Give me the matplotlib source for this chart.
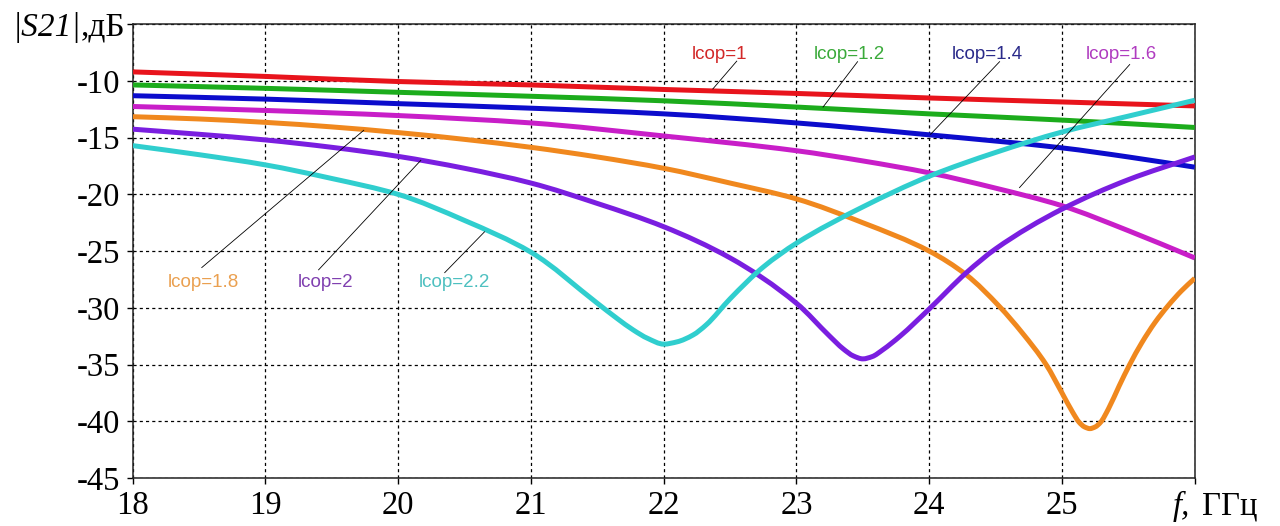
import matplotlib
matplotlib.use("Agg")
import matplotlib.pyplot as plt
from matplotlib.path import Path
from matplotlib.patches import PathPatch

# ---------------- data ----------------
f_red = [18, 19, 20, 21, 22, 23, 24, 25, 26]
s_red = [-9.2, -9.6, -10.05, -10.35, -10.75, -11.1, -11.5, -11.85, -12.2]

f_green = [18, 19, 20, 21, 22, 23, 24, 25, 26]
s_green = [-10.35, -10.65, -11.0, -11.35, -11.75, -12.3, -12.9, -13.45, -14.1]

f_blue = [18, 19, 20, 21, 22, 23, 24, 25, 25.5, 26]
s_blue = [-11.3, -11.6, -12.0, -12.4, -12.9, -13.7, -14.75, -15.9, -16.7, -17.6]

f_magenta = [18, 19, 20, 21, 22, 23, 23.5, 24, 24.5, 25, 25.5, 26]
s_magenta = [-12.25, -12.6, -13.05, -13.7, -14.85, -16.15, -17.05, -18.1, -19.45, -21.0, -23.2, -25.6]

f_orange = [18, 18.5, 19, 19.5, 20, 20.5, 21, 21.5, 22, 22.5, 23, 23.5, 24, 24.28, 24.53,
            24.7, 24.88, 25.0, 25.08, 25.13, 25.17, 25.21, 25.25, 25.29, 25.35, 25.43,
            25.51, 25.6, 25.7, 25.8, 25.9, 26]
s_orange = [-13.15, -13.35, -13.65, -14.05, -14.55, -15.15, -15.85, -16.7, -17.7, -19.0, -20.4,
            -22.5, -25.0, -27.1, -29.9, -32.2, -35.0, -37.5, -39.2, -40.1, -40.5, -40.65,
            -40.5, -40.1, -38.9, -36.9, -35.0, -33.1, -31.3, -29.8, -28.5, -27.4]

f_purple = [18, 18.5, 19, 19.5, 20, 20.5, 21, 21.5, 22, 22.5, 23, 23.25, 23.35, 23.43, 23.5,
            23.57, 23.65, 23.78, 24.0, 24.28, 24.5, 25.0, 25.5, 26]
s_purple = [-14.25, -14.7, -15.2, -15.85, -16.65, -17.7, -19.0, -20.8, -22.85, -25.6, -29.6,
            -32.5, -33.6, -34.25, -34.5, -34.3, -33.7, -32.5, -30.1, -26.9, -24.8, -21.3,
            -18.7, -16.7]

f_cyan = [18, 18.5, 19, 19.5, 20, 20.5, 21, 21.5, 21.65, 21.77, 21.88, 22, 22.1, 22.22, 22.32,
          22.5, 22.75, 23.0, 23.5, 24, 24.5, 25, 25.5, 26]
s_cyan = [-15.7, -16.5, -17.4, -18.6, -20.0, -22.3, -25.1, -29.6, -30.95, -31.95, -32.7, -33.2,
          -33.0, -32.4, -31.5, -29.2, -26.4, -24.3, -21.1, -18.4, -16.3, -14.5, -13.1, -11.7]

labels = ["lcop=1", "lcop=1.2", "lcop=1.4", "lcop=1.6", "lcop=1.8", "lcop=2", "lcop=2.2"]

x_ticks = [18, 19, 20, 21, 22, 23, 24, 25, 26]
x_ticklabels = ["18", "19", "20", "21", "22", "23", "24", "25", ""]
y_ticks = [-45, -40, -35, -30, -25, -20, -15, -10, -5]
y_ticklabels = ["-45", "-40", "-35", "-30", "-25", "-20", "-15", "-10", ""]

# ---------------- style ----------------
line_colors = ["#e8141c", "#1cac1c", "#0c0ccc", "#c81ec8", "#f0881e", "#7a1ee0", "#30cece"]
text_colors = ["#d22828", "#3aaa3a", "#2a2a8a", "#b03cc0", "#eaa050", "#8040b0", "#4ec0c0"]

# label text position (x, baseline y) and leader line (start, end) in data units
label_pos = [(22.42, -8.05), (23.40, -8.05), (24.44, -8.05), (25.45, -8.05),
             (18.53, -28.2), (19.45, -28.2), (20.42, -28.2)]
leader = [((22.55, -8.25), (22.37, -10.7)),
          ((23.46, -8.3), (23.20, -12.3)),
          ((24.53, -8.3), (24.01, -14.7)),
          ((25.51, -8.55), (24.68, -19.4)),
          ((18.52, -26.45), (19.74, -14.35)),
          ((19.40, -26.65), (20.17, -17.0)),
          ((20.35, -26.9), (20.65, -23.3))]


def smooth_path(xs, ys):
    """Monotone (Fritsch-Carlson) cubic Bezier path through the given points."""
    n = len(xs)
    h = [xs[i + 1] - xs[i] for i in range(n - 1)]
    d = [(ys[i + 1] - ys[i]) / h[i] for i in range(n - 1)]
    m = [0.0] * n
    m[0], m[-1] = d[0], d[-1]
    for k in range(1, n - 1):
        if d[k - 1] * d[k] <= 0:
            m[k] = 0.0
        else:
            w1 = 2 * h[k] + h[k - 1]
            w2 = h[k] + 2 * h[k - 1]
            m[k] = (w1 + w2) / (w1 / d[k - 1] + w2 / d[k])
    verts = [(xs[0], ys[0])]
    codes = [Path.MOVETO]
    for i in range(n - 1):
        verts += [(xs[i] + h[i] / 3, ys[i] + m[i] * h[i] / 3),
                  (xs[i + 1] - h[i] / 3, ys[i + 1] - m[i + 1] * h[i] / 3),
                  (xs[i + 1], ys[i + 1])]
        codes += [Path.CURVE4] * 3
    return Path(verts, codes)


plt.rcParams['font.family'] = ['Liberation Serif', 'DejaVu Serif']

fig = plt.figure(figsize=(12.8, 5.26), dpi=100)
ax = fig.add_axes([0.1037, 0.0913, 0.8297, 0.8626])

series = [(f_red, s_red), (f_green, s_green), (f_blue, s_blue), (f_magenta, s_magenta),
          (f_orange, s_orange), (f_purple, s_purple), (f_cyan, s_cyan)]
for (fx, sy), c in zip(series, line_colors):
    patch = PathPatch(smooth_path(fx, sy), fill=False, edgecolor=c, lw=3.6,
                      capstyle='butt', joinstyle='round', zorder=3)
    patch.set_clip_on(True)
    ax.add_patch(patch)

for (start, end) in leader:
    ax.plot([start[0], end[0]], [start[1], end[1]], color='black', lw=0.6, zorder=4)

for lab, (lx, ly), tc in zip(labels, label_pos, text_colors):
    ax.text(lx, ly, lab, color=tc, fontsize=13.5, family=['Liberation Sans', 'DejaVu Sans'],
            ha='center', va='baseline', zorder=5)

ax.set_xlim(18, 26)
ax.set_ylim(-45, -5)
ax.set_xticks(x_ticks)
ax.set_xticklabels(x_ticklabels)
ax.set_yticks(y_ticks)
ax.set_yticklabels(y_ticklabels)
ax.tick_params(direction='out', length=4.3, width=1, labelsize=23.5, pad=5, colors='black')
ax.grid(True, color='black', linestyle=(0, (2.5, 2.5)), lw=0.9)
ax.set_axisbelow(True)
for sp in ax.spines.values():
    sp.set_linewidth(1.1)
    sp.set_color('#222222')

# axis captions in place of the last tick labels
fig.canvas.draw()
r = fig.canvas.get_renderer()
ax_bb = ax.get_window_extent(r)

t2 = fig.text(0, 0, ",дБ", fontsize=24, ha='left', va='center_baseline')
t2.set_transform(None)
w2 = t2.get_window_extent(r).width
right_px = ax_bb.x0 - 7
t2.set_position((right_px - w2, ax_bb.y1))
t1 = fig.text(0, 0, "|S21|", fontsize=24, style='italic', ha='right', va='center_baseline')
t1.set_transform(None)
t1.set_position((right_px - w2, ax_bb.y1))

bb = ax.xaxis.get_ticklabels()[0].get_window_extent(r)
tf = fig.text(0, 0, "f,", fontsize=23.5, style='italic', ha='left', va='top')
tf.set_transform(None)
tf.set_position((ax_bb.x0 + (1173 - 132.7), bb.y1))
tg = fig.text(0, 0, "ГГц", fontsize=23.5, ha='left', va='top')
tg.set_transform(None)
tg.set_position((ax_bb.x0 + (1202 - 132.7), bb.y1))

fig.savefig("out.png", dpi=100, facecolor='white')
